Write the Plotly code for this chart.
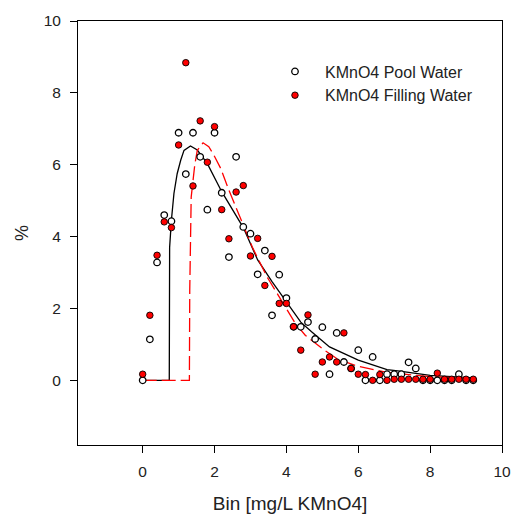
import plotly.graph_objects as go

bins = [0.0, 0.2, 0.4, 0.6, 0.8, 1.0, 1.2, 1.4, 1.6, 1.8, 2.0, 2.2, 2.4, 2.6, 2.8,
        3.0, 3.2, 3.4, 3.6, 3.8, 4.0, 4.2, 4.4, 4.6, 4.8, 5.0, 5.2, 5.4, 5.6, 5.8,
        6.0, 6.2, 6.4, 6.6, 6.8, 7.0, 7.2, 7.4, 7.6, 7.8, 8.0, 8.2, 8.4, 8.6, 8.8,
        9.0, 9.2]

pool_water = [0.0, 1.14, 3.28, 4.6, 4.43, 6.89, 5.74, 6.89, 6.22, 4.75, 6.89, 5.22, 3.43, 6.22, 4.27,
              4.08, 2.95, 3.61, 1.81, 2.94, 2.29, 1.49, 1.49, 1.62, 1.15, 1.48, 0.17, 1.32, 0.51, 0.33,
              0.84, 0.0, 0.65, 0.0, 0.17, 0.17, 0.17, 0.5, 0.33, 0.0, 0.0, 0.0, 0.0, 0.0, 0.17,
              0.0, 0.0]

filling_water = [0.17, 1.81, 3.48, 4.41, 4.25, 6.55, 8.84, 5.41, 7.22, 6.07, 7.06, 4.75, 3.94, 5.24, 5.42,
                 3.46, 3.95, 2.64, 3.45, 2.14, 2.14, 1.49, 0.84, 1.82, 0.17, 0.51, 0.65, 0.51, 1.32, 0.33,
                 0.17, 0.16, 0.0, 0.16, 0.0, 0.03, 0.03, 0.03, 0.03, 0.03, 0.03, 0.2, 0.03, 0.03, 0.03,
                 0.03, 0.03]

pool_fit_x = [0.0, 0.74, 0.75, 0.8, 0.87, 0.96, 1.06, 1.15, 1.33, 1.52, 1.8, 2.2, 2.8, 3.2, 3.6,
              4.0, 4.4, 4.7, 5.2, 6.0, 6.8, 7.1, 8.0, 9.2]
pool_fit_y = [0.0, 0.0, 3.7, 4.46, 5.2, 5.75, 6.13, 6.4, 6.52, 6.41, 6.03, 5.25, 4.25, 3.35, 2.75,
              2.2, 1.62, 1.35, 0.93, 0.56, 0.3, 0.26, 0.14, 0.07]

filling_fit_x = [0.0, 1.3, 1.31, 1.35, 1.45, 1.52, 1.68, 1.84, 1.98, 2.17, 2.4, 2.68, 3.05, 3.46,
                 3.79, 4.25, 4.53, 5.04, 5.41, 5.96, 6.8, 8.0, 9.2]
filling_fit_y = [0.0, 0.0, 2.5, 5.1, 6.0, 6.4, 6.61, 6.5, 6.27, 5.9, 5.29, 4.6, 3.71, 2.88,
                 2.32, 1.58, 1.25, 0.85, 0.6, 0.4, 0.22, 0.1, 0.05]

FONT = "Liberation Sans, Arial"

fig = go.Figure()

fig.add_trace(go.Scatter(x=pool_fit_x, y=pool_fit_y, mode="lines",
                         line=dict(color="black", width=1.3), showlegend=False, hoverinfo="skip"))
fig.add_trace(go.Scatter(x=filling_fit_x, y=filling_fit_y, mode="lines",
                         line=dict(color="red", width=1.3, dash="14px,5px"), showlegend=False,
                         hoverinfo="skip"))

fig.add_trace(go.Scatter(x=bins, y=pool_water, mode="markers", name="KMnO4 Pool Water",
                         marker=dict(symbol="circle", size=6.5, color="white",
                                     line=dict(color="black", width=1.3))))
fig.add_trace(go.Scatter(x=bins, y=filling_water, mode="markers", name="KMnO4 Filling Water",
                         marker=dict(symbol="circle", size=6.5, color="red",
                                     line=dict(color="black", width=0.9))))

axis_common = dict(
    range=[-1.8, 10], showgrid=False, zeroline=False, showline=True, linecolor="black",
    linewidth=1, mirror=True, ticks="outside", ticklen=7, tickcolor="black", tickwidth=1,
    tickfont=dict(family=FONT, size=15.5, color="#222"),
    dtick=2, tick0=0, automargin=False,
)

fig.update_xaxes(**axis_common, ticklabelstandoff=5,
                 title=dict(text="Bin [mg/L KMnO4]", standoff=19,
                            font=dict(family=FONT, size=19, color="#222")))
fig.update_yaxes(**axis_common, ticklabelstandoff=6,
                 title=dict(text="%", standoff=10,
                            font=dict(family=FONT, size=18, color="#222")))

fig.update_layout(
    width=511, height=514,
    margin=dict(l=78, r=9, t=21, b=69),
    paper_bgcolor="white", plot_bgcolor="white",
    legend=dict(x=0.441, y=0.921, xanchor="left", yanchor="top", itemwidth=50,
                font=dict(family=FONT, size=16, color="#222"),
                bgcolor="rgba(0,0,0,0)", tracegroupgap=0),
    showlegend=True,
)

fig.write_html("out.html",
               config={"displayModeBar": False},
               post_script="document.body.style.margin='0';document.body.style.overflow='hidden';")
